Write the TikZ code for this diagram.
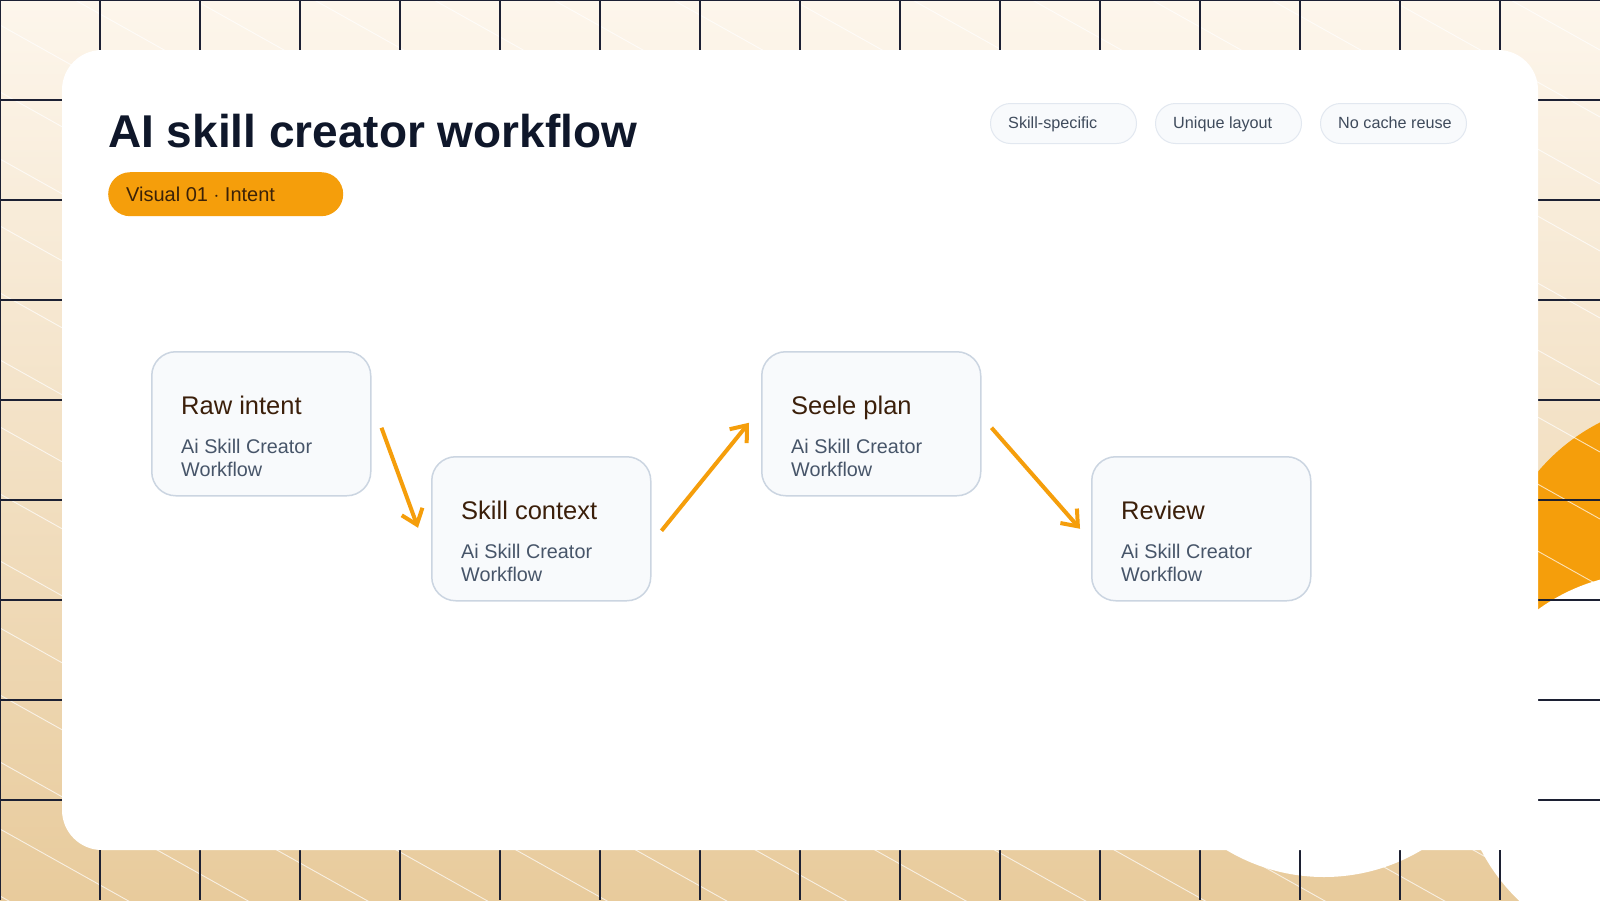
\documentclass[tikz,border=0pt]{standalone}
\usepackage{fontspec}
\setmainfont{Liberation Sans}
\usetikzlibrary{arrows.meta,calc}
\definecolor{bgtop}{HTML}{FDF6EC}
\definecolor{bgbot}{HTML}{E8CB9C}
\definecolor{gridc}{HTML}{1C2033}
\definecolor{orangec}{HTML}{F59E0B}
\definecolor{boxfill}{HTML}{F8FAFC}
\definecolor{boxline}{HTML}{CBD5E1}
\definecolor{chipline}{HTML}{E2E8F0}
\definecolor{titlec}{HTML}{0F172A}
\definecolor{brownc}{HTML}{3B1F0A}
\definecolor{pilltext}{HTML}{3B2208}
\definecolor{subc}{HTML}{475569}
\definecolor{chiptext}{HTML}{3F4B5C}
\begin{document}
\begin{tikzpicture}[x=1pt,y=-1pt,
  stepbox/.style={draw=boxline, line width=1.5pt, fill=boxfill, rounded corners=24pt,
    minimum width=219pt, minimum height=144pt, inner sep=0pt, anchor=north west},
  chip/.style={draw=chipline, line width=1pt, fill=boxfill, rounded corners=20pt,
    minimum width=146pt, minimum height=40pt, inner sep=0pt, anchor=north west},
  boxtitle/.style={anchor=base west, inner sep=0pt, text=brownc, font=\fontsize{25.5}{30}\selectfont},
  boxsub/.style={anchor=base west, inner sep=0pt, text=subc, font=\fontsize{19.8}{23}\selectfont},
  chiptxt/.style={anchor=base west, inner sep=0pt, text=chiptext, font=\fontsize{16.2}{19}\selectfont},
  flow/.style={draw=orangec, line width=4pt, -{Straight Barb[length=14pt,width=22pt]}},
  gridline/.style={draw=gridc, line width=1.2pt},
  diag/.style={draw=white, line width=0.9pt, opacity=0.7}
]
\useasboundingbox (0,0) rectangle (1600,900);
\begin{scope}
\clip (0,0) rectangle (1600,900);
\shade[top color=bgtop, bottom color=bgbot] (0,0) rectangle (1600,900);
\fill[orangec] (1690,600) circle[radius=199];
\fill[white] (1324,687) circle[radius=190];
\fill[white] (1650,763) circle[radius=190];
\foreach \k in {-14,...,13} {
  \draw[diag] (0,{25+67*\k}) -- (1600,{25+67*\k+896});
}
\foreach \x in {0,100,...,1500} { \draw[gridline] (\x,0) -- (\x,900); }
\foreach \y in {0,100,...,800} { \draw[gridline] (0,\y) -- (1600,\y); }
\fill[white, rounded corners=40pt] (62,50) rectangle (1538,850);
\end{scope}

% title and tag
\node[anchor=base west, inner sep=0pt, text=titlec, font=\bfseries\fontsize{46}{52}\selectfont] (title) at (108,147) {AI skill creator workflow};
\node[fill=orangec, rounded corners=22pt, minimum width=235pt, minimum height=44pt, inner sep=0pt, anchor=north west] (pill) at (108,172) {};
\node[anchor=base west, inner sep=0pt, text=pilltext, font=\fontsize{20}{24}\selectfont] (pilltxt) at (126,201) {Visual 01 $\cdot$ Intent};

% chips
\node[chip] (c1) at (990,103) {};
\node[chip] (c2) at (1155,103) {};
\node[chip] (c3) at (1320,103) {};
\node[chiptxt] (c1t) at (1008,128) {Skill-specific};
\node[chiptxt] (c2t) at (1173,128) {Unique layout};
\node[chiptxt] (c3t) at (1338,128) {No cache reuse};

% steps
\node[stepbox] (n1) at (151,351) {};
\node[stepbox] (n2) at (431,456) {};
\node[stepbox] (n3) at (761,351) {};
\node[stepbox] (n4) at (1091,456) {};

\node[boxtitle] (n1t) at ($(n1.north west)+(30,63)$) {Raw intent};
\node[boxsub] (n1a) at ($(n1.north west)+(30,102)$) {Ai Skill Creator};
\node[boxsub] (n1b) at ($(n1.north west)+(30,125)$) {Workflow};

\node[boxtitle] (n2t) at ($(n2.north west)+(30,63)$) {Skill context};
\node[boxsub] (n2a) at ($(n2.north west)+(30,102)$) {Ai Skill Creator};
\node[boxsub] (n2b) at ($(n2.north west)+(30,125)$) {Workflow};

\node[boxtitle] (n3t) at ($(n3.north west)+(30,63)$) {Seele plan};
\node[boxsub] (n3a) at ($(n3.north west)+(30,102)$) {Ai Skill Creator};
\node[boxsub] (n3b) at ($(n3.north west)+(30,125)$) {Workflow};

\node[boxtitle] (n4t) at ($(n4.north west)+(30,63)$) {Review};
\node[boxsub] (n4a) at ($(n4.north west)+(30,102)$) {Ai Skill Creator};
\node[boxsub] (n4b) at ($(n4.north west)+(30,125)$) {Workflow};

% connectors
\draw[flow] ($(n1.east)+(10,4)$) -- ($(n2.west)+(-13,-1)$);
\draw[flow] ($(n2.east)+(10,2)$) -- ($(n3.west)+(-12,-1)$);
\draw[flow] ($(n3.east)+(10,4)$) -- ($(n4.west)+(-11,0)$);
\end{tikzpicture}
\end{document}
